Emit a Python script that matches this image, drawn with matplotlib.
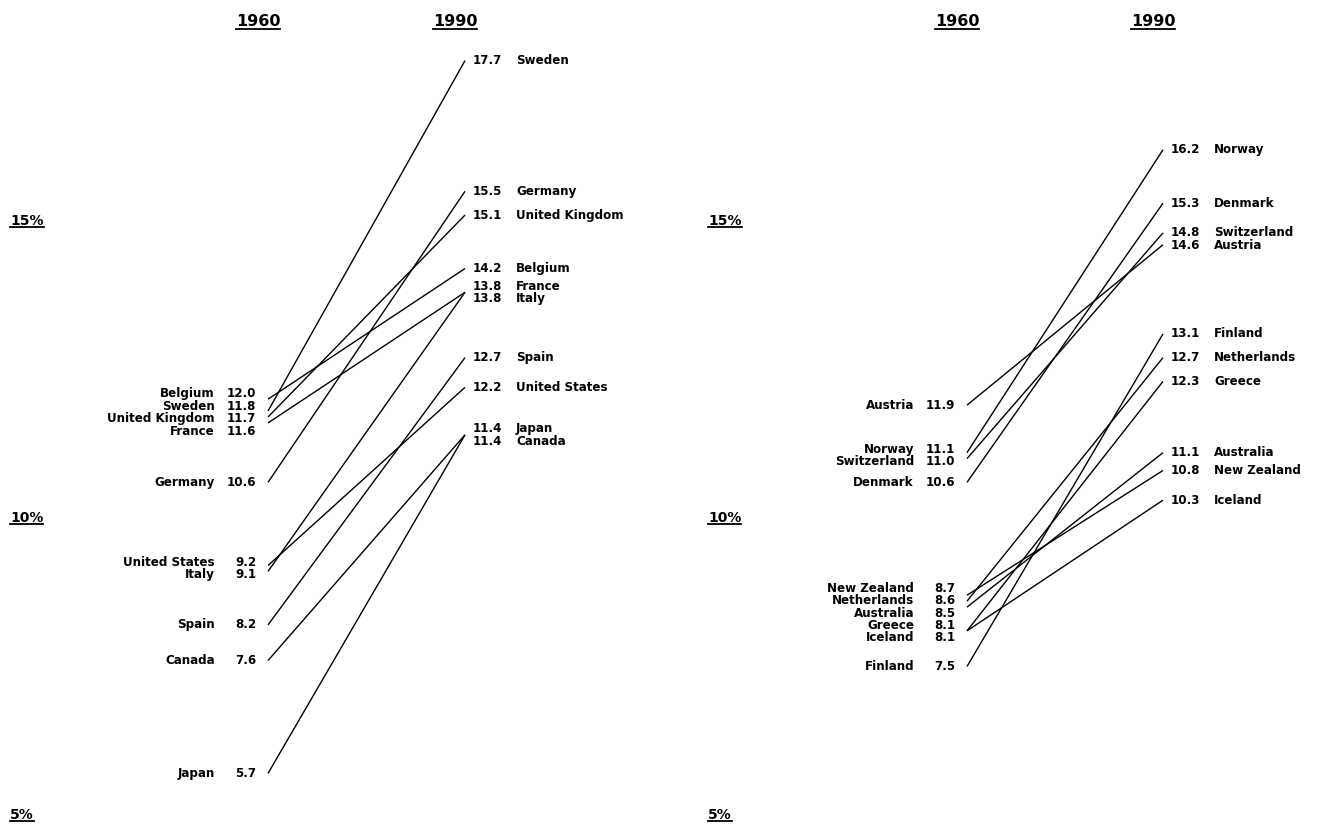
import numpy as np
import matplotlib
matplotlib.use('Agg')
import matplotlib.pyplot as plt
from matplotlib.lines import Line2D

# current receipts of government as % of GDP (slopegraph data)
left_countries = ['Sweden', 'Germany', 'United Kingdom', 'Belgium', 'France',
                  'Italy', 'Spain', 'United States', 'Japan', 'Canada']
left_1960 = [11.8, 10.6, 11.7, 12.0, 11.6, 9.1, 8.2, 9.2, 5.7, 7.6]
left_1990 = [17.7, 15.5, 15.1, 14.2, 13.8, 13.8, 12.7, 12.2, 11.4, 11.4]

right_countries = ['Norway', 'Denmark', 'Switzerland', 'Austria', 'Finland',
                   'Netherlands', 'Greece', 'Australia', 'New Zealand', 'Iceland']
right_1960 = [11.1, 10.6, 11.0, 11.9, 7.5, 8.6, 8.1, 8.5, 8.7, 8.1]
right_1990 = [16.2, 15.3, 14.8, 14.6, 13.1, 12.7, 12.3, 11.1, 10.8, 10.3]

years = ['1960', '1990']
pct_ticks = [15, 10, 5]

W, H = 1317, 827
FS = 8.6
GAP = 0.21  # min label spacing, in % units


def spread(values):
    # push labels apart so they don't overlap, keeping clusters centred
    order = np.argsort(-np.asarray(values), kind='stable')
    clusters = [[i] for i in order]
    def pos(cl):
        c = np.mean([values[i] for i in cl])
        return [c + ((len(cl) - 1) / 2 - k) * GAP for k in range(len(cl))]
    changed = True
    while changed:
        changed = False
        for j in range(len(clusters) - 1):
            a, b = pos(clusters[j]), pos(clusters[j + 1])
            if a[-1] - b[0] < GAP - 1e-9:
                clusters[j] = clusters[j] + clusters[j + 1]
                del clusters[j + 1]
                changed = True
                break
    out = np.zeros(len(values))
    for cl in clusters:
        for i, p in zip(cl, pos(cl)):
            out[i] = p
    return out


def fmt(v):
    return '%.1f' % v


fig = plt.figure(figsize=(W / 100, H / 100), dpi=100)

# pixel layout: 1960 column x, 1990 column x, pct label x
panels = [
    dict(left=0, right=658, x60=268, x90=465, pct_x=10,
         names=left_countries, v60=left_1960, v90=left_1990),
    dict(left=658, right=W, x60=967, x90=1163, pct_x=708,
         names=right_countries, v60=right_1960, v90=right_1990),
]

# y: 15% at pixel 221, 10% at pixel 518
ppu = (518 - 221) / 5
ytop = 15 + 221 / ppu
ybot = 15 - (H - 221) / ppu

underline = []
for p in panels:
    ax = fig.add_axes([p['left'] / W, 0, (p['right'] - p['left']) / W, 1])
    span = p['x90'] - p['x60']
    ax.set_xlim((p['left'] - p['x60']) / span, (p['right'] - p['x60']) / span)
    ax.set_ylim(ybot, ytop)
    ax.axis('off')

    v60 = np.array(p['v60'])
    v90 = np.array(p['v90'])
    for a, b in zip(v60, v90):
        ax.plot([0, 1], [a, b], color='black', lw=1.0, solid_capstyle='butt')

    l60 = spread(v60)
    l90 = spread(v90)
    for name, a, b, ya, yb in zip(p['names'], v60, v90, l60, l90):
        ax.annotate(fmt(a), xy=(0, ya), xytext=(-12, 0), textcoords='offset pixels',
                    ha='right', va='center', fontsize=FS, fontweight='bold')
        ax.annotate(name, xy=(0, ya), xytext=(-53, 0), textcoords='offset pixels',
                    ha='right', va='center', fontsize=FS, fontweight='bold')
        ax.annotate(fmt(b), xy=(1, yb), xytext=(8, 0), textcoords='offset pixels',
                    ha='left', va='center', fontsize=FS, fontweight='bold')
        ax.annotate(name, xy=(1, yb), xytext=(51, 0), textcoords='offset pixels',
                    ha='left', va='center', fontsize=FS, fontweight='bold')

    for xi, yr in enumerate(years):
        t = ax.annotate(yr, xy=(xi, ytop), xytext=(-10, -22), textcoords='offset pixels',
                        ha='center', va='center', fontsize=11.5, fontweight='bold')
        underline.append(t)

    for v in pct_ticks:
        t = ax.annotate('%d%%' % v, xy=((p['pct_x'] - p['left']) / (p['right'] - p['left']), v),
                        xycoords=('axes fraction', 'data'), ha='left', va='center',
                        fontsize=10, fontweight='bold')
        underline.append(t)

# underline the headers and percent labels
fig.canvas.draw()
r = fig.canvas.get_renderer()
inv = fig.transFigure.inverted()
for t in underline:
    bb = t.get_window_extent(r)
    (x0, y0), (x1, _) = inv.transform([(bb.x0, bb.y0 + 1), (bb.x1, bb.y0 + 1)])
    fig.add_artist(Line2D([x0, x1], [y0, y0], color='black', lw=1.3,
                          transform=fig.transFigure))

fig.savefig('out.png', dpi=100, facecolor='white')
